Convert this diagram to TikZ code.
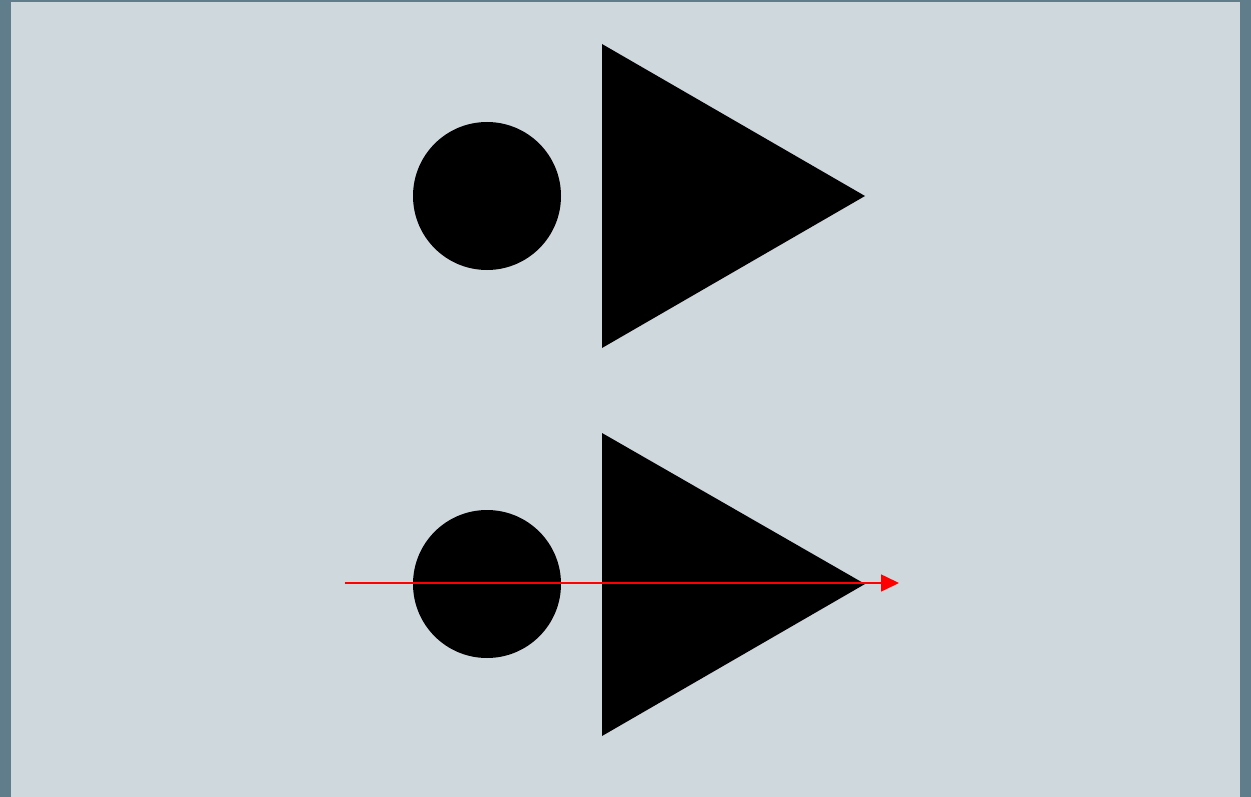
\documentclass[tikz,border=0pt]{standalone}
\usetikzlibrary{arrows.meta}
\definecolor{frame}{HTML}{607D8B}
\definecolor{paper}{HTML}{CFD8DC}
\definecolor{arrowred}{HTML}{FF0000}
\tikzset{
  dot/.style={circle,fill=black,inner sep=0pt,minimum size=148pt},
  tri/.style={fill=black},
  redarrow/.style={draw=arrowred,line width=1.6pt,-{Triangle[length=18pt,width=17pt]}}
}
\begin{document}
\begin{tikzpicture}[x=1pt,y=-1pt]
\useasboundingbox (0,0) rectangle (1251,797);
\fill[frame] (0,0) rectangle (1251,797);
\fill[paper] (11,2) rectangle (1240,797);
\node[dot] (c1) at (487,196) {};
\fill[tri] (602,44) -- (865,196) -- (602,348) -- cycle;
\node[dot] (c2) at (487,584) {};
\fill[tri] (602,433) -- (865,584) -- (602,736) -- cycle;
\coordinate (a) at (345,583);
\coordinate (b) at (899,583);
\draw[redarrow] (a) -- (b);
\end{tikzpicture}
\end{document}
